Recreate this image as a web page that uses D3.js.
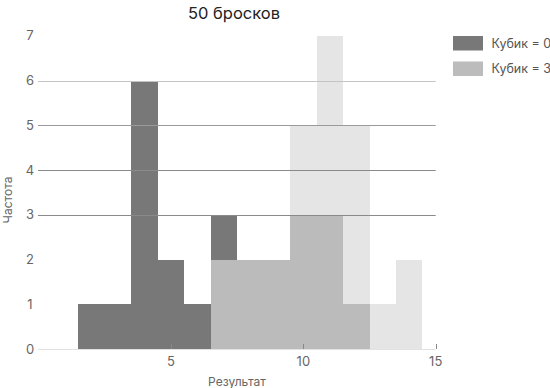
<!DOCTYPE html>
<html>
<head>
<meta charset="utf-8">
<script src="https://cdn.jsdelivr.net/npm/d3@7"></script>
<style>
  body { margin: 0; background: #fff; }
  svg { display: block; font-family: Inter, 'Noto Sans', sans-serif; }
</style>
</head>
<body>
<div id="chart"></div>
<script>
// histogram bins (left edges, width 1) and counts per series
const binStarts = [1.5, 2.5, 3.5, 4.5, 5.5, 6.5, 7.5, 8.5, 9.5, 10.5, 11.5, 12.5, 13.5];
const countsDie0 = [1, 1, 6, 2, 1, 3, 2, 2, 3, 3, 1, 0, 0];
const countsDie3 = [0, 0, 0, 0, 0, 2, 2, 2, 5, 7, 5, 1, 2];
const xTicks = [5, 10, 15];
const yTicks = [0, 1, 2, 3, 4, 5, 6, 7];
const gridLevels = [0, 3, 4, 5, 6];
const seriesNames = ['Кубик = 0', 'Кубик = 3'];

const W = 550, H = 388;
const x = d3.scaleLinear().domain([0, 15]).range([38.7, 435.7]);
const y = d3.scaleLinear().domain([0, 7]).range([349, 35.75]);

const svg = d3.select('#chart').append('svg')
  .attr('width', W).attr('height', H);

// dark series (opaque)
svg.selectAll('rect.d0')
  .data(binStarts.map((b, i) => ({ b, v: countsDie0[i] })).filter(d => d.v > 0))
  .enter().append('rect')
  .attr('x', d => x(d.b)).attr('width', d => x(d.b + 1) - x(d.b))
  .attr('y', d => y(d.v)).attr('height', d => y(0) - y(d.v))
  .attr('fill', '#787878')
  .attr('shape-rendering', 'crispEdges');

// light series, semi-transparent on top
svg.selectAll('rect.d3')
  .data(binStarts.map((b, i) => ({ b, v: countsDie3[i] })).filter(d => d.v > 0))
  .enter().append('rect')
  .attr('x', d => x(d.b)).attr('width', d => x(d.b + 1) - x(d.b))
  .attr('y', d => y(d.v)).attr('height', d => y(0) - y(d.v))
  .attr('fill', '#dadada')
  .attr('fill-opacity', 0.69)
  .attr('shape-rendering', 'crispEdges');

// gridlines drawn over the bars
const gridColor = { 0: '#e2e2e2', 3: '#8a8a8a', 4: '#8a8a8a', 5: '#9a9a9a', 6: '#c4c4c4' };
svg.selectAll('line.grid')
  .data(gridLevels)
  .enter().append('line')
  .attr('x1', 38).attr('x2', 435.7)
  .attr('y1', d => Math.round(y(d)) + 0.5).attr('y2', d => Math.round(y(d)) + 0.5)
  .attr('stroke', d => gridColor[d])
  .attr('stroke-width', 1);

// x ticks (small, pointing up)
svg.selectAll('line.xt')
  .data(xTicks).enter().append('line')
  .attr('x1', d => Math.round(x(d)) + 0.5).attr('x2', d => Math.round(x(d)) + 0.5)
  .attr('y1', y(0) - 5).attr('y2', y(0))
  .attr('stroke', '#888');

svg.selectAll('text.xt')
  .data(xTicks).enter().append('text')
  .attr('x', d => x(d)).attr('y', 365.5)
  .attr('text-anchor', 'middle')
  .attr('font-size', 13).attr('fill', '#666')
  .text(d => d);

svg.selectAll('text.yt')
  .data(yTicks).enter().append('text')
  .attr('x', 30).attr('y', d => y(d) + 4.5)
  .attr('text-anchor', 'middle')
  .attr('font-size', 13).attr('fill', '#666')
  .text(d => d);

// axis titles
svg.append('text')
  .attr('transform', 'translate(12,200) rotate(-90)')
  .attr('text-anchor', 'middle')
  .attr('font-size', 12).attr('fill', '#666')
  .text('Частота');

svg.append('text')
  .attr('x', 237).attr('y', 386)
  .attr('text-anchor', 'middle')
  .attr('font-size', 12).attr('fill', '#666')
  .text('Результат');

svg.append('text')
  .attr('x', 234).attr('y', 18.5)
  .attr('text-anchor', 'middle')
  .attr('font-size', 16.5).attr('fill', '#222')
  .text('50 бросков');

// legend
const legendColors = ['#787878', '#bcbcbc'];
const lg = svg.selectAll('g.lg').data(seriesNames).enter().append('g')
  .attr('transform', (_, i) => `translate(453,${36 + i * 25.5})`);
lg.append('rect').attr('width', 30).attr('height', 14.5)
  .attr('fill', (_, i) => legendColors[i]);
lg.append('text').attr('x', 38.5).attr('y', 11.5)
  .attr('font-size', 12.5).attr('fill', '#555')
  .text(d => d);
</script>
</body>
</html>
